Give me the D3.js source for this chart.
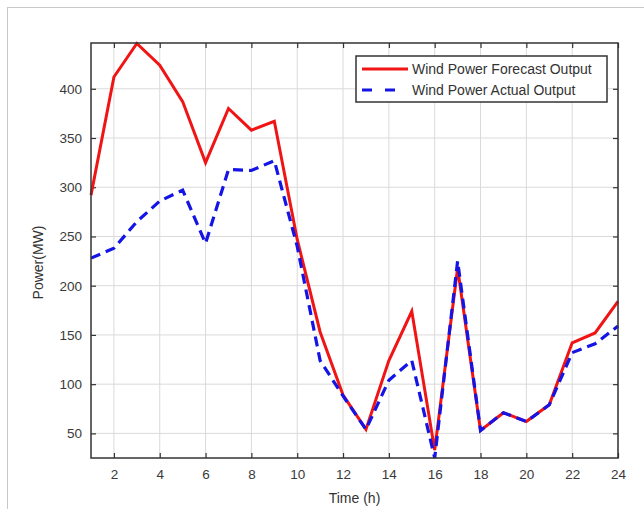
<!DOCTYPE html>
<html>
<head>
<meta charset="utf-8">
<script src="https://cdn.jsdelivr.net/npm/d3@7"></script>
<style>
  body { margin: 0; background: #fff; }
  text { font-family: 'Liberation Sans', Arial, sans-serif; }
</style>
</head>
<body>
<div id="chart"></div>
<script>
let hours = [1, 2, 3, 4, 5, 6, 7, 8, 9, 10, 11, 12, 13, 14, 15, 16, 17, 18, 19, 20, 21, 22, 23, 24]
let forecast = [292, 412, 446, 424, 387, 325, 380, 358, 367, 247, 153, 89, 54, 124, 174, 33, 218, 53, 71, 62, 79, 142, 152, 184]
let actual = [228, 238, 265, 286, 297, 243, 318, 317, 327, 240, 124, 88, 54, 104, 124, 25, 225, 53, 71, 62, 79, 132, 141, 159]
let xTicks = [2, 4, 6, 8, 10, 12, 14, 16, 18, 20, 22, 24]
let yTicks = [50, 100, 150, 200, 250, 300, 350, 400]
let seriesNames = ['Wind Power Forecast Output', 'Wind Power Actual Output']

let width = 644, height = 509
let margin = {left: 91, right: 26, top: 43, bottom: 51}
let w = width - margin.left - margin.right
let h = height - margin.top - margin.bottom

let svg = d3.select('#chart')
.append('svg')
.attr('width', width)
.attr('height', height)

// outer frame of the figure
svg.append('rect')
.attr('x', 7.5)
.attr('y', 7.5)
.attr('width', width)
.attr('height', height)
.attr('fill', 'none')
.style('stroke', '#c8c8c8')
.style('stroke-width', 1)

let x = d3.scaleLinear().domain([1, 24]).range([0, w])
let y = d3.scaleLinear().domain([25, 446.5]).range([h, 0])

let g = svg.append('g')
.attr('transform', `translate(${margin.left},${margin.top})`)

// grid
g.append('g')
.attr('class', 'grid')
.selectAll('line.vx')
.data(xTicks)
.join('line')
.attr('x1', d => x(d)).attr('x2', d => x(d))
.attr('y1', 0).attr('y2', h)
.style('stroke', '#dadada')
.style('stroke-width', 1)

g.append('g')
.attr('class', 'grid')
.selectAll('line.hy')
.data(yTicks)
.join('line')
.attr('x1', 0).attr('x2', w)
.attr('y1', d => y(d)).attr('y2', d => y(d))
.style('stroke', '#dadada')
.style('stroke-width', 1)

// axes with inward ticks
let styleAxis = sel => {
    sel.select('.domain').remove()
    sel.selectAll('.tick line').style('stroke', '#333').style('stroke-width', 1.2)
    sel.selectAll('.tick text')
    .style('font-size', '13.5px')
    .style('fill', '#3a3a3a')
    .attr('font-family', null)
}

g.append('g')
.attr('transform', `translate(0,${h})`)
.call(d3.axisBottom(x).tickValues(xTicks).tickSizeInner(-5).tickSizeOuter(0).tickPadding(11))
.call(styleAxis)

g.append('g')
.call(d3.axisTop(x).tickValues(xTicks).tickSizeInner(-5).tickSizeOuter(0).tickFormat(''))
.call(styleAxis)

g.append('g')
.call(d3.axisLeft(y).tickValues(yTicks).tickSizeInner(-5).tickSizeOuter(0).tickPadding(9))
.call(styleAxis)

g.append('g')
.attr('transform', `translate(${w},0)`)
.call(d3.axisRight(y).tickValues(yTicks).tickSizeInner(-5).tickSizeOuter(0).tickFormat(''))
.call(styleAxis)

// lines
let line = d3.line()
.x((d, i) => x(hours[i]))
.y(d => y(d))

g.append('path')
.datum(forecast)
.attr('d', line)
.attr('fill', 'none')
.style('stroke', '#f01414')
.style('stroke-width', 3)
.style('stroke-linejoin', 'miter')

g.append('path')
.datum(actual)
.attr('d', line)
.attr('fill', 'none')
.style('stroke', '#1414e6')
.style('stroke-width', 3.2)
.style('stroke-dasharray', '10,6')

// plot box
g.append('rect')
.attr('width', w)
.attr('height', h)
.attr('fill', 'none')
.style('stroke', '#333')
.style('stroke-width', 1.5)

// axis labels
svg.append('text')
.attr('x', margin.left + w / 2)
.attr('y', 503)
.attr('text-anchor', 'middle')
.style('font-size', '14px')
.style('fill', '#333')
.text('Time (h)')

svg.append('text')
.attr('transform', `translate(43,${margin.top + h / 2 + 12}) rotate(-90)`)
.attr('text-anchor', 'middle')
.style('font-size', '14px')
.style('fill', '#333')
.text('Power(MW)')

// legend
let legend = svg.append('g')
.attr('transform', 'translate(356,56)')

legend.append('rect')
.attr('width', 251)
.attr('height', 46)
.attr('fill', '#fff')
.style('stroke', '#333')
.style('stroke-width', 1.5)

let legendItems = legend.selectAll('.item')
.data(seriesNames)
.join('g')
.attr('class', 'item')
.attr('transform', (d, i) => `translate(0,${13 + i * 21})`)

legendItems.append('line')
.attr('x1', 6).attr('x2', 52)
.attr('y1', 0).attr('y2', 0)
.style('stroke', (d, i) => i == 0 ? '#f01414' : '#1414e6')
.style('stroke-width', 3)
.style('stroke-dasharray', (d, i) => i == 0 ? null : '10,13')

legendItems.append('text')
.attr('x', 56)
.attr('y', 5)
.style('font-size', '14px')
.style('fill', '#333')
.text(d => d)
</script>
</body>
</html>
